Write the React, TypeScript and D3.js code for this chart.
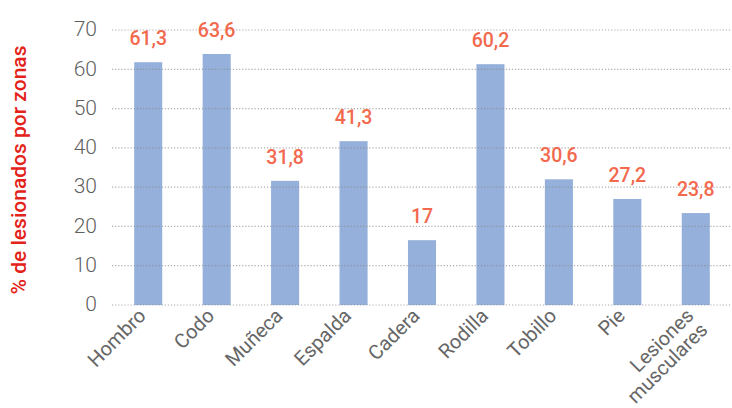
import React from "react";
import * as d3 from "d3";

const categories = ["Hombro", "Codo", "Muñeca", "Espalda", "Cadera", "Rodilla", "Tobillo", "Pie", "Lesiones musculares"];
const labelValues = [61.3, 63.6, 31.8, 41.3, 17, 60.2, 30.6, 27.2, 23.8];
const barValues = [61.8, 63.9, 31.6, 41.7, 16.5, 61.3, 32.0, 27.0, 23.4];
const yTicks = [0, 10, 20, 30, 40, 50, 60, 70];
const yTitle = "% de lesionados por zonas";

const W = 732;
const H = 408;

export default function App() {
  const x = d3.scaleBand<string>().domain(categories).range([114, 730]).paddingInner(0.59).paddingOuter(0.295);
  const y = d3.scaleLinear().domain([0, 70]).range([305, 30]);
  const fmt = (v: number) => String(v).replace(".", ",");
  const font = "Roboto, 'DejaVu Sans', sans-serif";

  return (
    <svg width={W} height={H} style={{ position: "absolute", left: 0, top: 0, background: "#fff" }}>
      {categories.map((c, i) => (
        <rect key={c} x={x(c)} y={y(barValues[i])} width={x.bandwidth()} height={y(0) - y(barValues[i])} fill="#95B0DA" />
      ))}
      {yTicks.map((t) => (
        <g key={t}>
          <line x1={112} x2={W} y1={y(t)} y2={y(t)} stroke="#8a8a8a" strokeOpacity={0.7} strokeWidth={1.2} strokeDasharray="1.2,1.9" />
          <text x={97} y={y(t) - 1} dy="0.35em" textAnchor="end" fontFamily={font} fontWeight={300} fontSize={21} fill="#5f5f5f">{t}</text>
        </g>
      ))}
      {categories.map((c, i) => (
        <text key={c} x={x(c)! + x.bandwidth() / 2} y={y(barValues[i]) - 17} textAnchor="middle" fontFamily={font} fontWeight={500} fontSize={19.5} fill="#F2694E">
          {fmt(labelValues[i])}
        </text>
      ))}
      {categories.map((c) => {
        const cx = x(c)! + x.bandwidth() / 2;
        const words = c.split(" ");
        return (
          <text key={c} transform={`translate(${cx - 6},${312}) rotate(-45)`} textAnchor="end" fontFamily={font} fontWeight={400} fontSize={20} fill="#666">
            {words.map((w, k) => (
              <tspan key={k} x={0} dy={k === 0 ? "0.35em" : "1.0em"}>{w}</tspan>
            ))}
          </text>
        );
      })}
      <text transform={`translate(26,${170}) rotate(-90)`} textAnchor="middle" fontFamily={font} fontWeight={500} fontSize={21} fill="#E32219">
        {yTitle}
      </text>
    </svg>
  );
}
